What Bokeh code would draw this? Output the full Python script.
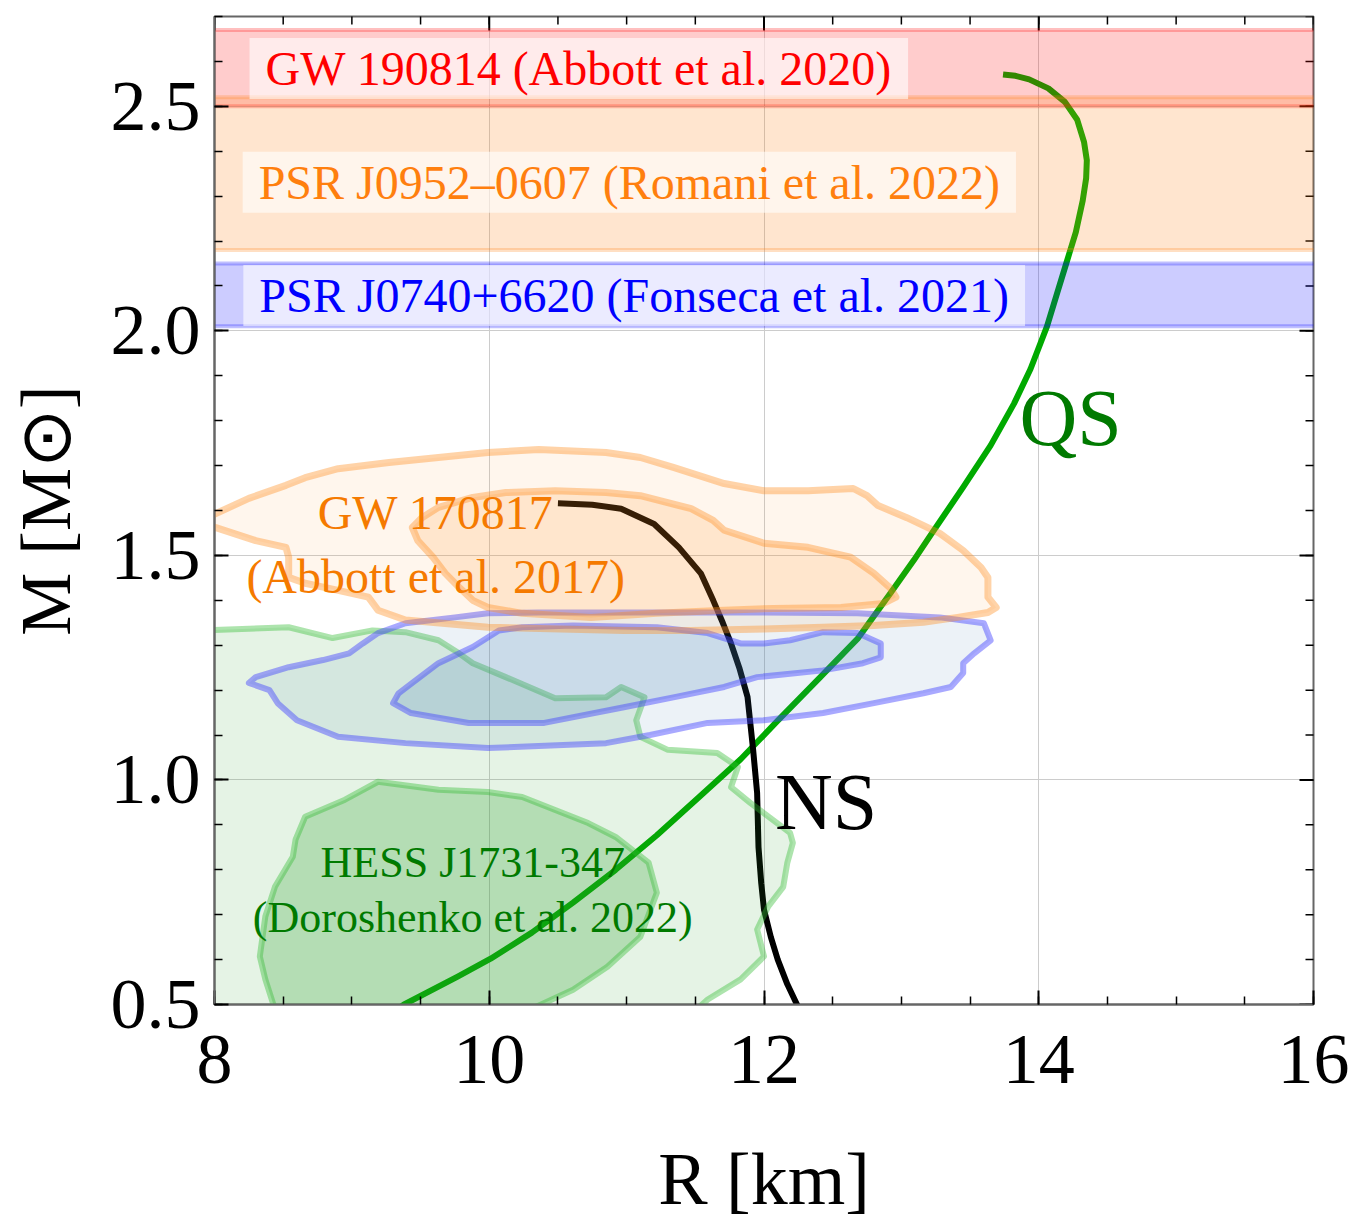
import numpy as np
from bokeh.plotting import figure
from bokeh.models import Range1d, FixedTicker, ColumnDataSource, PrintfTickFormatter
from bokeh.core.properties import value
from bokeh.embed import file_html
from bokeh.resources import INLINE

FONT = "Liberation Serif"

# ---------------- data ----------------
ns_R = [10.50, 10.75, 10.96, 11.20, 11.38, 11.54, 11.63, 11.70, 11.76, 11.82, 11.88,
        11.92, 11.95, 11.96, 11.98, 12.00, 12.05, 12.10, 12.17, 12.24, 12.28]
ns_M = [1.616, 1.613, 1.604, 1.570, 1.518, 1.460, 1.400, 1.350, 1.304, 1.250, 1.185,
        1.070, 0.971, 0.850, 0.770, 0.711, 0.650, 0.600, 0.545, 0.500, 0.475]

qs_R = [9.28, 9.38, 9.77, 10.01, 10.31, 10.61, 10.92, 11.22, 11.52, 11.83, 12.10, 12.41,
        12.68, 12.92, 13.09, 13.23, 13.45, 13.65, 13.82, 13.94, 14.06, 14.13, 14.20,
        14.27, 14.32, 14.345, 14.35, 14.33, 14.28, 14.19, 14.07, 13.93, 13.83, 13.74]
qs_M = [0.478, 0.500, 0.562, 0.602, 0.660, 0.727, 0.800, 0.877, 0.960, 1.046, 1.132, 1.229,
        1.314, 1.416, 1.489, 1.553, 1.652, 1.745, 1.838, 1.915, 2.010, 2.080, 2.150,
        2.220, 2.290, 2.340, 2.380, 2.420, 2.470, 2.510, 2.540, 2.560, 2.568, 2.571]

# GW170817 contours
gw_out_R = [7.93, 8.25, 8.52, 8.66, 8.90, 9.27, 9.63, 9.99, 10.36, 10.85, 11.10, 11.34, 11.71,
            12.00, 12.32, 12.65, 12.75, 12.83, 13.04, 13.28, 13.45, 13.58, 13.63, 13.63, 13.69,
            13.63, 13.41, 13.16, 12.80, 12.43, 12.00, 11.47, 10.98, 9.99, 9.39, 9.19, 9.12,
            8.90, 8.66, 8.54, 8.54, 8.52, 8.30, 8.01, 7.93]
gw_out_M = [1.582, 1.627, 1.656, 1.673, 1.693, 1.707, 1.718, 1.729, 1.736, 1.729, 1.718, 1.696, 1.660,
            1.644, 1.644, 1.649, 1.633, 1.611, 1.584, 1.549, 1.511, 1.473, 1.451, 1.407, 1.384,
            1.373, 1.362, 1.351, 1.344, 1.340, 1.336, 1.333, 1.333, 1.340, 1.356, 1.378, 1.407,
            1.422, 1.438, 1.451, 1.496, 1.518, 1.533, 1.562, 1.567]
gw_in_R = [9.44, 9.51, 9.63, 9.88, 10.12, 10.48, 10.85, 11.10, 11.47, 11.63, 11.71, 12.00, 12.32,
           12.63, 12.80, 12.92, 12.96, 12.87, 12.56, 12.07, 11.71, 11.22, 10.74, 10.24, 9.99,
           9.88, 9.78, 9.68, 9.59, 9.48]
gw_in_M = [1.562, 1.584, 1.607, 1.629, 1.640, 1.644, 1.640, 1.633, 1.604, 1.578, 1.556, 1.527, 1.518,
           1.496, 1.460, 1.427, 1.407, 1.393, 1.384, 1.382, 1.378, 1.371, 1.362, 1.371, 1.384,
           1.400, 1.429, 1.460, 1.496, 1.533]

# NICER (blue) contours
bl_out_R = [8.25, 8.30, 8.54, 8.79, 8.98, 9.08, 9.19, 9.39, 9.75, 9.99, 10.36, 10.85, 11.47, 12.00,
            12.68, 13.28, 13.60, 13.65, 13.53, 13.45, 13.45, 13.36, 13.16, 12.80, 12.43, 12.00,
            11.59, 11.17, 10.85, 9.99, 9.39, 8.90, 8.60, 8.46, 8.40]
bl_out_M = [1.216, 1.229, 1.251, 1.267, 1.282, 1.304, 1.327, 1.349, 1.362, 1.371, 1.373, 1.373, 1.373, 1.373,
            1.371, 1.362, 1.349, 1.311, 1.282, 1.260, 1.238, 1.207, 1.193, 1.171, 1.149, 1.133,
            1.127, 1.100, 1.082, 1.071, 1.082, 1.096, 1.133, 1.171, 1.200]
bl_in_R = [9.30, 9.34, 9.44, 9.63, 9.88, 10.07, 10.24, 10.61, 11.22, 11.59, 11.83, 12.00, 12.19,
           12.43, 12.68, 12.85, 12.85, 12.72, 12.43, 11.95, 11.71, 11.34, 10.98, 10.40, 9.85, 9.43]
bl_in_M = [1.171, 1.193, 1.216, 1.260, 1.296, 1.333, 1.340, 1.344, 1.340, 1.327, 1.304, 1.304, 1.311,
           1.329, 1.327, 1.304, 1.273, 1.260, 1.244, 1.229, 1.207, 1.184, 1.162, 1.127, 1.127, 1.149]

# HESS J1731-347 (green) contours
hs_out_R = [7.93, 8.54, 8.86, 9.15, 9.39, 9.63, 9.78, 9.88, 10.12, 10.48, 10.85, 10.96, 11.13,
            11.07, 11.10, 11.30, 11.66, 11.81, 11.76, 11.90, 12.19, 12.21, 12.17, 12.14, 12.03,
            11.95, 12.00, 11.83, 11.59, 11.47, 7.93]
hs_out_M = [1.333, 1.340, 1.316, 1.333, 1.329, 1.311, 1.282, 1.260, 1.229, 1.182, 1.184, 1.207, 1.184,
            1.133, 1.096, 1.067, 1.060, 1.029, 0.984, 0.949, 0.882, 0.860, 0.816, 0.762, 0.718,
            0.667, 0.607, 0.556, 0.511, 0.478, 0.478]
hs_in_R = [8.44, 8.37, 8.33, 8.37, 8.44, 8.57, 8.59, 8.66, 8.95, 9.19, 9.63, 9.99, 10.24, 10.48,
           10.72, 10.92, 11.16, 11.22, 11.10, 10.86, 10.61, 10.30]
hs_in_M = [0.489, 0.556, 0.607, 0.696, 0.762, 0.829, 0.867, 0.918, 0.956, 0.996, 0.978, 0.973, 0.962, 0.933,
           0.904, 0.873, 0.816, 0.749, 0.651, 0.584, 0.533, 0.489]

# horizontal mass bands
band_labels = ["GW 190814 (Abbott et al. 2020)",
               "PSR J0952\u20130607 (Romani et al. 2022)",
               "PSR J0740+6620 (Fonseca et al. 2021)"]
band_lo = [2.50, 2.18, 2.01]
band_hi = [2.67, 2.52, 2.15]
band_colors = ["#ff0000", "#ff7f0e", "#0000ff"]
band_text_colors = ["#ff0000", "#ff7f0e", "#0000ff"]
band_label_R = [8.255, 8.205, 8.21]
band_label_M = [2.584, 2.331, 2.079]

x_ticks = [8, 10, 12, 14, 16]
x_minor = [8 + 0.5 * i for i in range(17)]
y_ticks = [0.5, 1.0, 1.5, 2.0, 2.5]
y_minor = [round(0.5 + 0.1 * i, 1) for i in range(23)]
X_MIN, X_MAX = 8, 16
Y_MIN, Y_MAX = 0.5, 2.7

# ---------------- figure ----------------
p = figure(width=1351, height=1222, x_range=Range1d(X_MIN, X_MAX), y_range=Range1d(Y_MIN, Y_MAX),
           output_backend="svg", toolbar_location=None,
           min_border_left=214, min_border_right=38, min_border_top=16, min_border_bottom=217)
p.background_fill_color = "white"
p.border_fill_color = "white"
p.outline_line_color = "#666666"
p.outline_line_width = 2

p.xaxis.ticker = FixedTicker(ticks=x_ticks, minor_ticks=x_minor)
p.yaxis.ticker = FixedTicker(ticks=y_ticks, minor_ticks=y_minor)
p.yaxis.formatter = PrintfTickFormatter(format="%.1f")
p.xgrid.ticker = FixedTicker(ticks=x_ticks)
p.ygrid.ticker = FixedTicker(ticks=y_ticks)
p.grid.grid_line_color = "#cccccc"
p.grid.grid_line_width = 1

p.xaxis.axis_label = "R [km]"
p.yaxis.axis_label = "M [M\u2299]"

for ax in [p.xaxis[0], p.yaxis[0]]:
    ax.axis_label_text_font = FONT
    ax.axis_label_text_font_style = "normal"
    ax.axis_label_text_color = "black"
    ax.major_label_text_font = FONT
    ax.major_label_text_font_size = "72px"
    ax.major_label_text_color = "black"
    ax.axis_line_color = "#666666"
    ax.axis_line_width = 2
    ax.major_tick_in = 14
    ax.major_tick_out = 0
    ax.minor_tick_in = 8
    ax.minor_tick_out = 0
    ax.major_tick_line_color = "black"
    ax.minor_tick_line_color = "black"
    ax.major_tick_line_width = 2
    ax.minor_tick_line_width = 1.5

p.xaxis.axis_label_text_font_size = "74px"
p.yaxis.axis_label_text_font_size = "71px"
p.xaxis.major_label_standoff = 31
p.xaxis.axis_label_standoff = 52
p.yaxis.major_label_standoff = 14
p.yaxis.axis_label_standoff = 23

# mirrored ticks on top and right (dash markers centred on the frame edge, half clipped)
p.scatter(x=x_ticks, y=[Y_MAX] * len(x_ticks), marker="dash", size=28, angle=np.pi / 2,
          line_color="black", line_width=2)
p.scatter(x=x_minor, y=[Y_MAX] * len(x_minor), marker="dash", size=16, angle=np.pi / 2,
          line_color="black", line_width=1.5)
p.scatter(x=[X_MAX] * len(y_ticks), y=y_ticks, marker="dash", size=28,
          line_color="black", line_width=2)
p.scatter(x=[X_MAX] * len(y_minor), y=y_minor, marker="dash", size=16,
          line_color="black", line_width=1.5)

# curves (drawn first; translucent regions on top)
p.line(qs_R, qs_M, line_color="#00aa00", line_width=6, line_join="round")
p.line(ns_R, ns_M, line_color="black", line_width=6, line_join="round")

# HESS
p.patch(hs_out_R, hs_out_M, fill_color="#2ca02c", fill_alpha=0.12,
        line_color="#33bb33", line_alpha=0.4, line_width=6, line_join="round")
p.patch(hs_in_R, hs_in_M, fill_color="#2ca02c", fill_alpha=0.26,
        line_color="#33bb33", line_alpha=0.4, line_width=6, line_join="round")
# NICER
p.patch(bl_out_R, bl_out_M, fill_color="#4682b4", fill_alpha=0.1,
        line_color="#4040ff", line_alpha=0.45, line_width=6, line_join="round")
p.patch(bl_in_R, bl_in_M, fill_color="#4682b4", fill_alpha=0.2,
        line_color="#4040ff", line_alpha=0.45, line_width=6, line_join="round")
# GW170817
p.patch(gw_out_R, gw_out_M, fill_color="#ff8c1a", fill_alpha=0.08,
        line_color="#ff8c1a", line_alpha=0.38, line_width=7, line_join="round")
p.patch(gw_in_R, gw_in_M, fill_color="#ff8c1a", fill_alpha=0.15,
        line_color="#ff8c1a", line_alpha=0.38, line_width=7, line_join="round")

# bands
band_src = ColumnDataSource(dict(lo=band_lo, hi=band_hi, color=band_colors,
                                 left=[X_MIN - 1] * 3, right=[X_MAX + 1] * 3))
p.quad(left="left", right="right", bottom="lo", top="hi", source=band_src,
       fill_color="color", fill_alpha=0.2, line_color="color", line_alpha=0.25, line_width=4)

# band labels
lab_src = ColumnDataSource(dict(x=band_label_R, y=band_label_M, text=band_labels, color=band_text_colors))
p.text(x="x", y="y", text="text", source=lab_src, text_color="color",
       text_font=value(FONT), text_font_size="48px", text_align="left", text_baseline="middle",
       background_fill_color="white", background_fill_alpha=0.6, padding=(16, 4))

# other labels
p.text(x=[9.61, 9.61], y=[1.596, 1.454], text=["GW 170817", "(Abbott et al. 2017)"],
       text_color="#f57a00", text_font=value(FONT), text_font_size="48px",
       text_align="center", text_baseline="alphabetic")
p.text(x=[9.88, 9.88], y=[0.816, 0.694], text=["HESS J1731-347", "(Doroshenko et al. 2022)"],
       text_color="#007a00", text_font=value(FONT), text_font_size="44px",
       text_align="center", text_baseline="alphabetic")
p.text(x=[12.08], y=[0.951], text=["NS"], text_color="black", text_font=value(FONT),
       text_font_size="80px", text_align="left", text_baseline="alphabetic")
p.text(x=[13.86], y=[1.807], text=["QS"], text_color="#007a00", text_font=value(FONT),
       text_font_size="80px", text_align="left", text_baseline="alphabetic")

open("out.html", "w").write(file_html(p, INLINE))
